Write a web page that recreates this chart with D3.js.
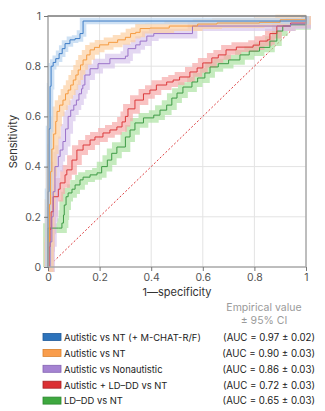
<!DOCTYPE html>
<html>
<head>
<meta charset="utf-8">
<script src="https://cdn.jsdelivr.net/npm/d3@7"></script>
<style>
  html, body { margin: 0; padding: 0; background: #fff; }
  svg text { font-family: Inter, "Noto Sans", sans-serif; }
</style>
</head>
<body>
<div id="chart"></div>
<script>
// ---------- DATA: ROC points as [1-specificity, sensitivity] ----------
const seriesNames = [
  "Autistic vs NT (+ M-CHAT-R/F)",
  "Autistic vs NT",
  "Autistic vs Nonautistic",
  "Autistic + LD\u2013DD vs NT",
  "LD\u2013DD vs NT"
];
const aucValues = [0.97, 0.90, 0.86, 0.72, 0.65];
const aucCI = [0.02, 0.03, 0.03, 0.03, 0.03];

const rocBlue = [[0,0],[0,0.3],[0.004,0.55],[0.008,0.72],[0.012,0.8],[0.02,0.815],[0.03,0.83],
  [0.043,0.85],[0.055,0.87],[0.066,0.89],[0.085,0.905],[0.105,0.91],[0.124,0.93],[0.136,0.98],[1,0.98],[1,1]];

const rocOrange = [[0,0],[0.003,0.1],[0.006,0.25],[0.01,0.38],[0.015,0.47],[0.022,0.53],[0.03,0.58],
  [0.035,0.62],[0.045,0.645],[0.058,0.665],[0.068,0.69],[0.078,0.705],[0.088,0.725],[0.098,0.745],
  [0.108,0.765],[0.117,0.785],[0.126,0.805],[0.136,0.825],[0.15,0.845],[0.163,0.865],[0.18,0.875],
  [0.2,0.885],[0.235,0.895],[0.27,0.905],[0.3,0.915],[0.32,0.93],[0.34,0.935],[0.357,0.95],
  [0.395,0.952],[0.47,0.96],[0.58,0.968],[0.655,0.972],[0.82,0.975],[0.9,0.985],[1,1]];

const rocPurple = [[0,0],[0.008,0.1],[0.015,0.2],[0.02,0.3],[0.027,0.4],[0.04,0.44],[0.047,0.466],
  [0.058,0.5],[0.068,0.55],[0.078,0.6],[0.088,0.625],[0.1,0.645],[0.11,0.665],[0.12,0.69],
  [0.13,0.71],[0.135,0.725],[0.143,0.765],[0.163,0.79],[0.194,0.81],[0.24,0.83],[0.3,0.84],
  [0.31,0.87],[0.34,0.885],[0.357,0.9],[0.383,0.92],[0.41,0.93],[0.56,0.96],[0.94,0.968],[1,1]];

const rocRed = [[0,0],[0.005,0.08],[0.008,0.15],[0.012,0.22],[0.02,0.28],[0.04,0.31],[0.047,0.335],
  [0.066,0.367],[0.073,0.387],[0.093,0.426],[0.112,0.466],[0.136,0.486],[0.163,0.506],[0.182,0.518],
  [0.213,0.534],[0.24,0.546],[0.267,0.558],[0.287,0.578],[0.3,0.6],[0.31,0.63],[0.337,0.665],
  [0.37,0.69],[0.395,0.705],[0.42,0.725],[0.46,0.737],[0.485,0.745],[0.51,0.757],[0.55,0.777],
  [0.578,0.793],[0.6,0.813],[0.635,0.833],[0.66,0.845],[0.69,0.865],[0.73,0.876],[0.795,0.884],
  [0.82,0.9],[0.85,0.905],[0.86,0.93],[0.887,0.96],[0.94,0.972],[1,1]];

const rocGreen = [[0,0],[0,0.155],[0.04,0.155],[0.054,0.175],[0.06,0.207],[0.063,0.247],[0.07,0.28],
  [0.078,0.295],[0.093,0.31],[0.105,0.327],[0.124,0.347],[0.136,0.358],[0.163,0.367],[0.19,0.375],
  [0.208,0.4],[0.23,0.426],[0.247,0.453],[0.267,0.478],[0.3,0.518],[0.318,0.546],[0.337,0.574],
  [0.37,0.594],[0.41,0.605],[0.434,0.625],[0.46,0.645],[0.48,0.673],[0.5,0.693],[0.523,0.717],
  [0.558,0.737],[0.58,0.753],[0.608,0.773],[0.628,0.797],[0.66,0.81],[0.7,0.825],[0.744,0.845],
  [0.78,0.86],[0.82,0.875],[0.86,0.9],[0.887,0.94],[0.91,0.96],[0.94,0.965],[1,1]];

const rocData = [rocBlue, rocOrange, rocPurple, rocRed, rocGreen];
const axisTicks = [0, 0.2, 0.4, 0.6, 0.8, 1];

// ---------- STYLE ----------
const lineColors = ["#3d7cc6", "#f59b40", "#9a72c9", "#dc3a3c", "#3e9b45"];
const bandColors = ["#b9d4ef", "#fcd0a2", "#d8c8ec", "#f6aaa9", "#ace2a2"];
const swatchFill = ["#2d73bb", "#f99d4c", "#a583d2", "#db3033", "#3ea83f"];
const swatchLine = ["#1f5a99", "#d9822f", "#8463b2", "#a82224", "#2b852e"];

const W = 325, H = 411;
const M = { left: 48, right: 19, top: 16, bottom: 144 };

const svg = d3.select("#chart").append("svg")
  .attr("width", W)
  .attr("height", H);

const x = d3.scaleLinear().domain([0, 1]).range([M.left, W - M.right]);
const y = d3.scaleLinear().domain([0, 1]).range([H - M.bottom, M.top]);

// ---------- GRID ----------
const grid = svg.append("g");
grid.selectAll(".gx")
  .data(axisTicks.slice(1, -1))
  .enter().append("line")
  .attr("x1", d => x(d)).attr("x2", d => x(d))
  .attr("y1", y(0)).attr("y2", y(1))
  .attr("stroke", "#e3e3e3").attr("stroke-width", 1);
grid.selectAll(".gy")
  .data(axisTicks.slice(1, -1))
  .enter().append("line")
  .attr("x1", x(0)).attr("x2", x(1))
  .attr("y1", d => y(d)).attr("y2", d => y(d))
  .attr("stroke", "#e3e3e3").attr("stroke-width", 1);

// chance diagonal
svg.append("line")
  .attr("x1", x(0)).attr("y1", y(0))
  .attr("x2", x(1)).attr("y2", y(1))
  .attr("stroke", "#dc3a3c")
  .attr("stroke-width", 1)
  .attr("stroke-dasharray", "2,2");

// ---------- CURVES ----------
const line = d3.line()
  .x(d => x(d[0]))
  .y(d => y(d[1]))
  .curve(d3.curveStepAfter);

const order = [4, 3, 2, 1, 0];

// CI bands: a wide translucent stroke of the same step path
svg.append("g").selectAll("path")
  .data(order)
  .enter().append("path")
  .attr("d", i => line(rocData[i]))
  .attr("fill", "none")
  .attr("stroke", i => bandColors[i])
  .attr("stroke-opacity", 0.7)
  .attr("stroke-width", i => (y(0) - y(aucCI[i])) * 1.3)
  .attr("stroke-linejoin", "miter");

svg.append("g").selectAll("path")
  .data(order)
  .enter().append("path")
  .attr("d", i => line(rocData[i]))
  .attr("fill", "none")
  .attr("stroke", i => lineColors[i])
  .attr("stroke-width", 1);

// ---------- FRAME / AXES ----------
svg.append("rect")
  .attr("x", x(0)).attr("y", y(1))
  .attr("width", x(1) - x(0)).attr("height", y(0) - y(1))
  .attr("fill", "none")
  .attr("stroke", "#a8a8a8")
  .attr("stroke-width", 1.5);
svg.append("line")
  .attr("x1", x(0)).attr("x2", x(1))
  .attr("y1", y(1)).attr("y2", y(1))
  .attr("stroke", "#777").attr("stroke-width", 1);

const yAxis = svg.append("g")
  .attr("transform", `translate(${x(0)},0)`)
  .call(d3.axisLeft(y).tickValues(axisTicks).tickFormat(d3.format("~g")).tickSize(4).tickPadding(3));
const xAxis = svg.append("g")
  .attr("transform", `translate(0,${y(0)})`)
  .call(d3.axisBottom(x).tickValues(axisTicks).tickFormat(d3.format("~g")).tickSize(4).tickPadding(3));

[xAxis, yAxis].forEach(a => {
  a.select(".domain").remove();
  a.selectAll(".tick line").attr("stroke", "#777");
  a.selectAll(".tick text")
    .attr("fill", "#555")
    .style("font-size", "10.5px");
});

svg.append("text")
  .attr("x", (x(0) + x(1)) / 2)
  .attr("y", 296)
  .attr("text-anchor", "middle")
  .attr("fill", "#333")
  .style("font-size", "11px")
  .text("1\u2014specificity");

svg.append("text")
  .attr("transform", `translate(17,${(y(0) + y(1)) / 2}) rotate(-90)`)
  .attr("text-anchor", "middle")
  .attr("fill", "#333")
  .style("font-size", "11px")
  .text("Sensitivity");

// ---------- LEGEND ----------
const legHead = svg.append("g").attr("fill", "#9a9a9a").style("font-size", "10.5px");
legHead.append("text").attr("x", 264).attr("y", 311).attr("text-anchor", "middle").text("Empirical value");
legHead.append("text").attr("x", 264).attr("y", 324).attr("text-anchor", "middle").text("\u00b1 95% CI");

const legend = svg.append("g").selectAll("g")
  .data(seriesNames)
  .enter().append("g")
  .attr("transform", (d, i) => `translate(0,${337 + i * 15.9})`);

legend.append("rect")
  .attr("x", 43).attr("y", -3.5)
  .attr("width", 18).attr("height", 7)
  .attr("fill", (d, i) => swatchFill[i])
  .attr("stroke", (d, i) => swatchLine[i])
  .attr("stroke-width", 0.8);

const labelText = legend.append("text")
  .attr("x", 64).attr("y", 3.8)
  .attr("fill", "#222")
  .style("font-size", "10px")
  .text(d => d);

const aucText = legend.append("text")
  .attr("x", 315).attr("y", 3.8)
  .attr("text-anchor", "end")
  .attr("fill", "#222")
  .style("font-size", "10px")
  .text((d, i) => `(AUC = ${aucValues[i].toFixed(2)} \u00b1 ${aucCI[i].toFixed(2)})`);

// size the legend font so the longest label spans from the swatch to x≈202
const w0 = labelText.node().getComputedTextLength();
labelText.style("font-size", `${Math.min(11.5, 10 * 137 / w0)}px`);
const w1 = aucText.node().getComputedTextLength();
aucText.style("font-size", `${Math.min(11.5, 10 * 92 / w1)}px`);
</script>
</body>
</html>
